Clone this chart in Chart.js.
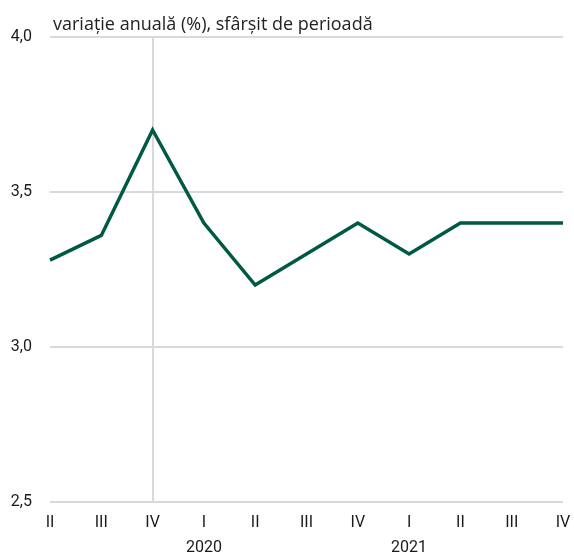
<!DOCTYPE html>
<html>
<head>
<meta charset="utf-8">
<script src="https://cdn.jsdelivr.net/npm/chart.js@4"></script>
<style>
  body { margin: 0; background: #fff; }
  #wrap { width: 574px; height: 557px; position: relative; }
</style>
</head>
<body>
<div id="wrap"><canvas id="chart" width="574" height="557"></canvas></div>
<script>
// quarters on the x axis, year shown under the first quarter of each year
const quarters = ['II', 'III', 'IV', 'I', 'II', 'III', 'IV', 'I', 'II', 'III', 'IV'];
const years = ['', '', '', '2020', '', '', '', '2021', '', '', ''];
const values = [3.28, 3.36, 3.7, 3.4, 3.2, 3.3, 3.4, 3.3, 3.4, 3.4, 3.4];
const yTicks = [2.5, 3.0, 3.5, 4.0];
const title = 'variație anuală (%), sfârșit de perioadă';

const tickFont = "Roboto, 'DejaVu Sans', sans-serif";
const gridColor = '#d9d9d9';

const labels = quarters.map((q, i) => years[i] ? [q, years[i]] : q);

const titlePlugin = {
    id: 'topTitle',
    afterDraw(chart) {
        const ctx = chart.ctx;
        ctx.save();
        ctx.font = "18px 'Open Sans', sans-serif";
        ctx.fillStyle = '#222';
        ctx.textBaseline = 'alphabetic';
        ctx.fillText(title, chart.chartArea.left + 3, 30);
        ctx.restore();
    }
};

new Chart(document.getElementById('chart'), {
    type: 'line',
    data: {
        labels: labels,
        datasets: [{
            data: values,
            borderColor: '#005a43',
            borderWidth: 3.5,
            pointRadius: 0,
            tension: 0,
            fill: false
        }]
    },
    options: {
        responsive: false,
        animation: false,
        layout: { padding: { top: 37, right: 11, left: 0, bottom: 0 } },
        plugins: {
            legend: { display: false },
            tooltip: { enabled: false }
        },
        scales: {
            x: {
                offset: false,
                border: { display: false },
                grid: {
                    drawTicks: false,
                    lineWidth: 2,
                    color: ctx => ctx.index === 2 ? gridColor : 'rgba(0,0,0,0)'
                },
                ticks: {
                    padding: 8,
                    maxRotation: 0,
                    autoSkip: false,
                    color: '#1a1a1a',
                    font: { family: tickFont, size: 16, lineHeight: 1.6 }
                },
                afterFit: scale => {
                    scale.height = 55;
                    scale.paddingLeft = 0;
                    scale.paddingRight = 0;
                }
            },
            y: {
                min: 2.5,
                max: 4.0,
                border: { display: false },
                grid: { drawTicks: false, lineWidth: 2, color: gridColor },
                afterBuildTicks: scale => { scale.ticks = yTicks.map(v => ({ value: v })); },
                ticks: {
                    padding: 18,
                    color: '#1a1a1a',
                    font: { family: tickFont, size: 16 },
                    callback: v => v.toFixed(1).replace('.', ',')
                },
                afterFit: scale => { scale.width = 50; }
            }
        }
    },
    plugins: [titlePlugin]
});
</script>
</body>
</html>
